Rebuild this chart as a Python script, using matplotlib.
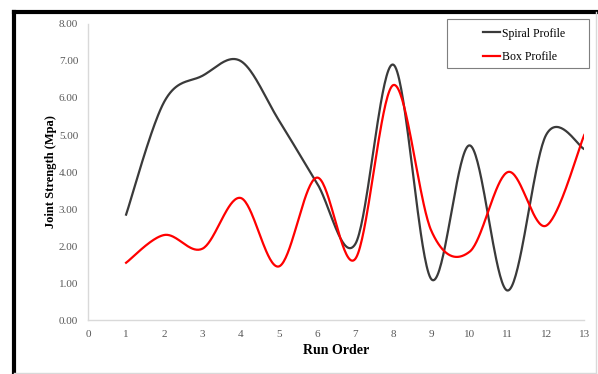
import numpy as np
import matplotlib
matplotlib.use("Agg")
import matplotlib.pyplot as plt
from matplotlib.lines import Line2D
from matplotlib.patches import Rectangle

plt.rcParams['font.family'] = ['Liberation Serif', 'DejaVu Serif']

run_order = [1, 2, 3, 4, 5, 6, 7, 8, 9, 10, 11, 12, 13]
spiral = [2.85, 5.9, 6.6, 7.0, 5.4, 3.7, 2.05, 6.9, 1.1, 4.72, 0.8, 5.0, 4.62]
box = [1.55, 2.3, 1.93, 3.3, 1.45, 3.85, 1.65, 6.35, 2.4, 1.85, 4.0, 2.55, 5.0]


def smooth(x, y, n=40):
    # Excel-style smoothed line: cubic Bezier with Catmull-Rom control points
    x = np.asarray(x, float)
    y = np.asarray(y, float)
    px = np.concatenate([[x[0]], x, [x[-1]]])
    py = np.concatenate([[y[0]], y, [y[-1]]])
    xs, ys = [], []
    t = np.linspace(0, 1, n)
    for i in range(len(x) - 1):
        p0 = np.array([px[i + 1], py[i + 1]])
        p3 = np.array([px[i + 2], py[i + 2]])
        c1 = p0 + (np.array([px[i + 2], py[i + 2]]) - np.array([px[i], py[i]])) / 6
        c2 = p3 - (np.array([px[i + 3], py[i + 3]]) - np.array([px[i + 1], py[i + 1]])) / 6
        b = ((1 - t) ** 3)[:, None] * p0 + (3 * (1 - t) ** 2 * t)[:, None] * c1 \
            + (3 * (1 - t) * t ** 2)[:, None] * c2 + (t ** 3)[:, None] * p3
        xs.extend(b[:, 0])
        ys.extend(b[:, 1])
    return xs, ys


fig = plt.figure(figsize=(5.98, 3.74), dpi=100)
ax = fig.add_axes([0.147, 0.144, 0.83, 0.792])

sx, sy = smooth(run_order, spiral)
bx, by = smooth(run_order, box)
ax.plot(sx, sy, color='#3a3a3a', lw=1.6, label='Spiral Profile')
ax.plot(bx, by, color='#ff0000', lw=1.6, label='Box Profile')

ax.set_xlim(0, 13)
ax.set_ylim(0, 8)
ax.set_xticks(range(0, 14))
ax.set_yticks(np.arange(0, 9, 1))
ax.set_yticklabels(['%.2f' % v for v in np.arange(0, 9, 1)])
ax.tick_params(length=0, labelsize=8, colors='#595959', pad=7)
for s in ['top', 'right']:
    ax.spines[s].set_visible(False)
for s in ['left', 'bottom']:
    ax.spines[s].set_color('#d9d9d9')
    ax.spines[s].set_linewidth(1)

ax.set_xlabel('Run Order', fontsize=10, fontweight='bold', labelpad=4)
ax.set_ylabel('Joint Strength (Mpa)', fontsize=9, fontweight='bold', labelpad=1)

# legend box drawn in figure pixels (Excel style, wide frame)
fig.add_artist(Rectangle((447 / 598, 1 - 68 / 374), 142 / 598, 49 / 374,
                         transform=fig.transFigure, fill=True, facecolor='white',
                         edgecolor='#7f7f7f', lw=0.8, zorder=5))
leg = fig.legend(loc='upper left', bbox_to_anchor=(472 / 598, 1 - 17 / 374), fontsize=8.5,
                 frameon=False, handlelength=1.5, handletextpad=0.1,
                 labelspacing=0.95, borderpad=0.4)
leg.set_zorder(6)

# outer frame of the picture
fig.add_artist(Line2D([14 / 598, 597 / 598], [1 - 12 / 374, 1 - 12 / 374], color='black', lw=3))
fig.add_artist(Line2D([14 / 598, 14 / 598], [1 - 12 / 374, 1 - 373 / 374], color='black', lw=3))
fig.add_artist(Line2D([596 / 598, 596 / 598], [1 - 12 / 374, 1 - 373 / 374], color='#d9d9d9', lw=1))
fig.add_artist(Line2D([14 / 598, 596 / 598], [1 - 373 / 374, 1 - 373 / 374], color='#d9d9d9', lw=1))

fig.savefig('out.png', dpi=100)
